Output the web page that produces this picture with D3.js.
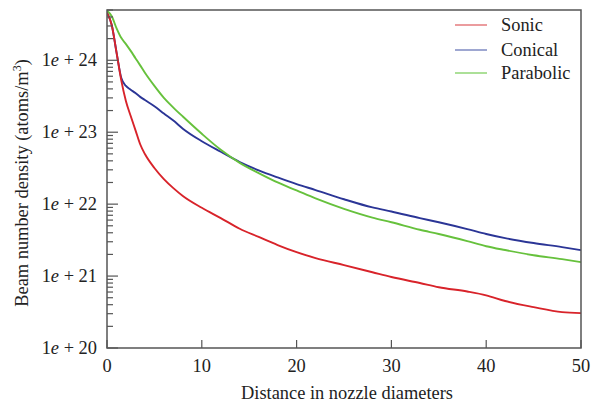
<!DOCTYPE html>
<html><head><meta charset="utf-8">
<script src="https://cdn.jsdelivr.net/npm/d3@7/dist/d3.min.js"></script>
<style>body{margin:0;background:#fff}svg{display:block}svg text{font-family:"Liberation Serif","DejaVu Serif",serif}</style>
</head><body>
<svg id="c" width="596" height="405"></svg>
<script>
const distance = [0,0.5,1,1.5,2,2.5,3,3.5,4,5,6,7,8,10,12,14,16,18,20,22,25,28,30,33,35,38,40,42,45,48,50];
const sonic    = [4.6e24,3.1e24,1.3e24,5.3e23,2.7e23,1.68e23,1.07e23,6.8e22,4.97e22,3.18e22,2.23e22,1.67e22,1.3e22,8.9e21,6.4e21,4.55e21,3.5e21,2.7e21,2.15e21,1.78e21,1.42e21,1.13e21,9.7e20,8.0e20,7.0e20,6.1e20,5.4e20,4.5e20,3.7e20,3.15e20,3.05e20];
const conical  = [4.6e24,3.1e24,1.3e24,5.7e23,4.4e23,3.9e23,3.5e23,3.1e23,2.8e23,2.3e23,1.82e23,1.45e23,1.12e23,7.5e22,5.35e22,3.85e22,2.95e22,2.35e22,1.9e22,1.57e22,1.17e22,9.0e21,7.9e21,6.4e21,5.6e21,4.5e21,3.84e21,3.37e21,2.88e21,2.53e21,2.29e21];
const parabolic= [4.9e24,4.1e24,2.8e24,2.05e24,1.68e24,1.35e24,1.07e24,8.5e23,6.7e23,4.4e23,3.0e23,2.2e23,1.65e23,9.5e22,5.7e22,3.75e22,2.7e22,2.0e22,1.55e22,1.2e22,8.6e21,6.5e21,5.6e21,4.4e21,3.84e21,3.06e21,2.6e21,2.3e21,1.95e21,1.72e21,1.56e21];
const seriesNames = ["Sonic","Conical","Parabolic"];
const xTicks = [0,10,20,30,40,50];
const yTickExps = [20,21,22,23,24];
const xLabel = "Distance in nozzle diameters";

const colors = ["#d8232a","#2b3596","#66c13c"];
const legendColors = ["#e0666a","#6a78b8","#7fd060"];
const svg = d3.select("#c");
const L=107,T=10,R=581,B=348;
const FS=18.4;
const x = d3.scaleLinear().domain([0,50]).range([L,R]);
const y = d3.scaleLog().domain([1e20,5e24]).range([B,T]);
const axisCol="#555";

const all=[sonic,conical,parabolic];
const line=d3.line().x((d,i)=>x(distance[i])).y(d=>y(d)).curve(d3.curveMonotoneX);
svg.append("clipPath").attr("id","cp").append("rect").attr("x",L).attr("y",T).attr("width",R-L).attr("height",B-T);
[1,2,0].forEach(k=>{
  svg.append("path").datum(all[k]).attr("d",line).attr("fill","none")
    .attr("stroke",colors[k]).attr("stroke-width",1.9).attr("clip-path","url(#cp)");
});

svg.append("rect").attr("x",L).attr("y",T).attr("width",R-L).attr("height",B-T)
  .attr("fill","none").attr("stroke",axisCol).attr("stroke-width",1.5);

const yt=[];
yTickExps.forEach(e=>{ for(let m=1;m<=9;m++){ const v=m*Math.pow(10,e); if(v<=5e24) yt.push({v,major:m===1}); }});
yt.forEach(t=>{
  svg.append("line").attr("x1",L).attr("x2",L+(t.major?11:6)).attr("y1",y(t.v)).attr("y2",y(t.v))
   .attr("stroke",axisCol).attr("stroke-width",1.2);
});
yTickExps.forEach(e=>{
  const tx=svg.append("text").attr("x",97).attr("y",y(Math.pow(10,e))+6).attr("text-anchor","end")
    .attr("font-size",FS).attr("fill","#222");
  tx.append("tspan").text("1");
  tx.append("tspan").attr("font-style","italic").text("e");
  tx.append("tspan").text(" + "+e);
});
xTicks.forEach(v=>{
  svg.append("line").attr("x1",x(v)).attr("x2",x(v)).attr("y1",B).attr("y2",B-8).attr("stroke",axisCol).attr("stroke-width",1.2);
  svg.append("text").attr("x",x(v)).attr("y",372).attr("text-anchor","middle")
    .attr("font-size",FS).attr("fill","#222").text(v);
});
svg.append("text").attr("x",(L+R)/2+3).attr("y",399).attr("text-anchor","middle")
  .attr("font-size",FS).attr("fill","#222").text(xLabel);
const yl=svg.append("text").attr("transform","translate(28,183) rotate(-90)").attr("text-anchor","middle")
  .attr("font-size",FS).attr("fill","#222");
yl.append("tspan").text("Beam number density (atoms/m");
yl.append("tspan").attr("font-size",12).attr("dy",-7).text("3");
yl.append("tspan").attr("dy",7).text(")");

const ly=[25,50,73];
seriesNames.forEach((n,i)=>{
  svg.append("line").attr("x1",455).attr("x2",487).attr("y1",ly[i]).attr("y2",ly[i]).attr("stroke",legendColors[i]).attr("stroke-width",1.3);
  svg.append("text").attr("x",501).attr("y",ly[i]+6).attr("font-size",FS).attr("fill","#222").text(n);
});
</script>
</body></html>
